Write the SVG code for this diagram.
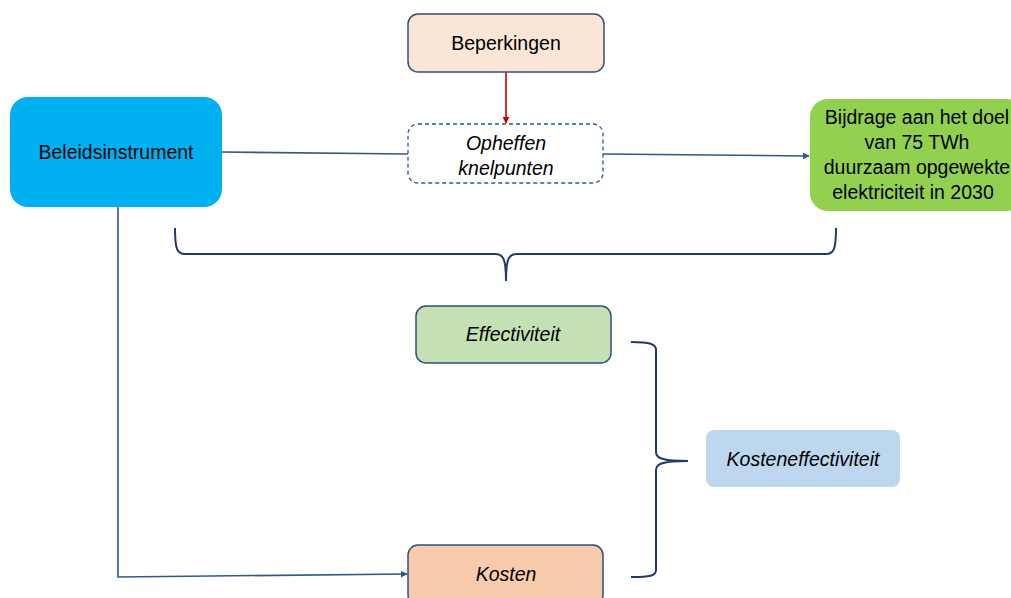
<svg xmlns="http://www.w3.org/2000/svg" width="1011" height="598" viewBox="0 0 1011 598">
  <style>
    text { font-family: "Liberation Sans", Arial, sans-serif; font-size: 19.5px; fill: #000; text-anchor: middle; }
    .it { font-style: italic; }
    .box { stroke: #2F4F7F; stroke-width: 1.5; }
    .conn { fill: none; stroke: #2E5A8A; stroke-width: 1.6; }
    .brace { fill: none; stroke: #1F3A6E; stroke-width: 2; }
  </style>
  <defs>
    <marker id="arrBlue" viewBox="0 0 10 10" refX="9" refY="5" markerWidth="7" markerHeight="7" markerUnits="userSpaceOnUse" orient="auto">
      <path d="M0,0 L10,5 L0,10 z" fill="#2E5A8A"/>
    </marker>
    <marker id="arrRed" viewBox="0 0 10 10" refX="9" refY="5" markerWidth="7" markerHeight="7" markerUnits="userSpaceOnUse" orient="auto">
      <path d="M0,0 L10,5 L0,10 z" fill="#C00000"/>
    </marker>
  </defs>

  <!-- connectors -->
  <g id="connectors">
    <path class="conn" d="M222,152 L408,154"/>
    <path class="conn" d="M603,154 L809,156" marker-end="url(#arrBlue)"/>
    <path class="conn" d="M118,207 L118,577 L407,574" marker-end="url(#arrBlue)"/>
    <path d="M506,72 L506,123" fill="none" stroke="#C00000" stroke-width="1.6" marker-end="url(#arrRed)"/>
    <!-- braces -->
    <path class="brace" d="M175,228 C175,249 177,254 185,254 L495,254 C503,254 506,258 506,281 C506,258 509,254 517,254 L826,254 C834,254 836,249 836,228"/>
    <path class="brace" d="M631,342 C650,342 656,344 656,350 L656,452 C656,458 662,461 688,461 C662,461 656,464 656,470 L656,570 C656,576 650,577 631,577"/>
  </g>

  <g id="beperkingen">
    <rect class="box" x="408" y="14" width="196" height="58" rx="10" fill="#FBE5D6"/>
    <text x="506" y="50">Beperkingen</text>
  </g>

  <g id="opheffen">
    <rect x="408" y="124" width="195" height="59" rx="10" fill="#FFFFFF" stroke="#2F5A8A" stroke-width="1.3" stroke-dasharray="4,3"/>
    <text class="it" x="506" y="150">Opheffen</text>
    <text class="it" x="506" y="175">knelpunten</text>
  </g>

  <g id="beleidsinstrument">
    <rect x="10" y="97" width="212" height="110" rx="18" fill="#00B0F0"/>
    <text x="116" y="159">Beleidsinstrument</text>
  </g>

  <g id="bijdrage">
    <rect x="810" y="99" width="215" height="112" rx="18" fill="#92D050"/>
    <text x="917" y="124">Bijdrage aan het doel</text>
    <text x="917" y="149">van 75 TWh</text>
    <text x="917" y="174">duurzaam opgewekte</text>
    <text x="913" y="199">elektriciteit in 2030</text>
  </g>

  <g id="effectiviteit">
    <rect class="box" x="416" y="306" width="195" height="57" rx="10" fill="#C5E0B4"/>
    <text class="it" x="513" y="341">Effectiviteit</text>
  </g>

  <g id="kosten">
    <rect class="box" x="408" y="545" width="195" height="60" rx="10" fill="#F8CBAD"/>
    <text class="it" x="506" y="581">Kosten</text>
  </g>

  <g id="kosteneffectiviteit">
    <rect x="706" y="430" width="194" height="57" rx="8" fill="#BDD7EE"/>
    <text class="it" x="803" y="466">Kosteneffectiviteit</text>
  </g>
</svg>
